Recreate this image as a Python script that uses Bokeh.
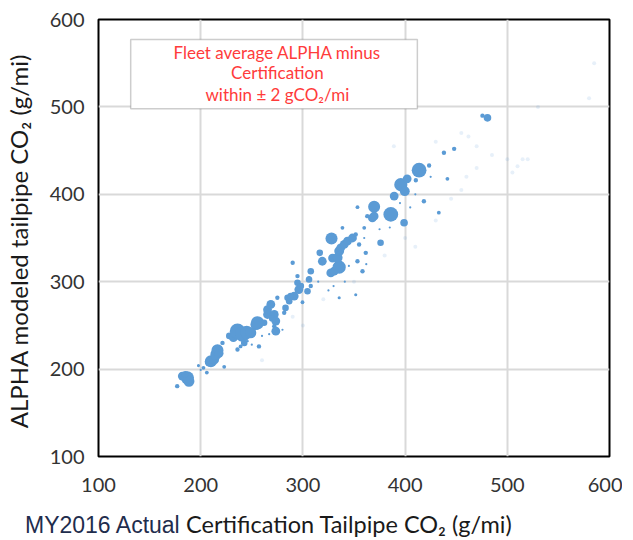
import numpy as np
from bokeh.plotting import figure
from bokeh.layouts import column
from bokeh.models import ColumnDataSource, Label, BoxAnnotation, FixedTicker, Div
from bokeh.embed import file_html
from bokeh.resources import INLINE

# ---- data ----
cert_x = [177, 182, 187, 188.5, 185, 197.8, 202.7, 206, 200, 208.3, 210, 213.2, 214.8, 216.4, 218,
          223, 221.3, 228, 232, 236, 241, 245, 242.6, 236, 239, 249, 254, 255.6, 257, 262,
          265.4, 265.4, 268.6, 272, 270, 273.5, 272, 273.5, 281.7, 283, 275, 285, 291.5, 286.6, 288,
          294.7, 296, 299.6, 298, 304.5, 307.7, 306, 294.7, 290, 306, 307.7, 316.5, 319, 327.3, 330.6,
          335.5, 329, 334, 335.5, 337, 340.4, 343.6, 348.5, 351.7, 328, 338.7, 335.5, 351.7, 353.4, 358.3,
          361.5, 355, 360, 353.4, 363, 368, 369.7, 369.7, 376, 386, 389.3, 395.8, 399.7, 402, 399,
          410.5, 413.7, 418.4, 423.5, 433, 441.4, 438, 448, 475.7, 480.6,
          315, 345, 362, 325, 280, 250, 267, 375, 385, 395, 405, 360, 341, 330, 410, 425, 260, 246]
alpha_y = [180.5, 192, 190, 186, 194, 204, 201.5, 196, 199, 208, 209, 211, 216.7, 221.5, 218,
           202.6, 230, 238, 236, 243.4, 240, 242, 230, 222.5, 226, 241.6, 251, 253, 226, 253,
           262.5, 268, 274, 262.5, 258, 255, 249, 243.4, 264.4, 270, 281.6, 281.6, 283.5, 277.7, 283.6,
           298.7, 291, 276.5, 295, 289, 295, 302.5, 306.4, 321.6, 304.4, 312, 333, 323.4, 310, 312,
           316.6, 327, 327.4, 335, 338.8, 342.6, 346.4, 350, 354, 349.4, 361.7, 281.6, 285, 323.4, 312,
           333, 342.6, 361.7, 385.3, 375, 373, 375, 385.7, 344.6, 377, 398, 411, 403.6, 417.7, 367.4,
           416, 427.6, 392, 433, 379, 417.7, 447.5, 452, 490, 487.5,
           300, 318, 320, 290, 245, 228, 240, 360, 362, 390, 385, 350, 300, 295, 400, 420, 238, 232]
sales = [4, 16, 36, 25, 9, 2, 3, 3, 1, 16, 30, 20, 25, 30, 16,
         3, 4, 9, 16, 49, 49, 36, 9, 4, 3, 25, 25, 36, 4, 9,
         16, 16, 16, 16, 9, 16, 4, 16, 4, 9, 4, 9, 16, 9, 9,
         9, 16, 3, 9, 9, 4, 9, 4, 4, 3, 9, 9, 16, 16, 16,
         36, 16, 20, 20, 16, 16, 16, 16, 4, 30, 3, 2, 2, 4, 4,
         4, 4, 3, 3, 4, 16, 16, 30, 9, 45, 16, 36, 20, 16, 12,
         4, 45, 4, 4, 3, 3, 4, 4, 4, 12,
         1, 1, 1, 1, 1, 1, 1, 1, 1, 1, 1, 1, 1, 1, 1, 1, 1, 1]

# faint, barely visible low-volume vehicles
faint_x = [389, 455, 462, 470, 485, 500, 505, 510, 515, 470, 460, 430, 530, 580, 585, 445, 455,
           430, 520, 380, 350, 320, 260, 400, 410, 290, 300]
faint_y = [455, 470, 466, 455, 445, 440, 425, 432, 440, 430, 420, 460, 500, 510, 550, 395, 405,
           370, 440, 330, 300, 280, 210, 350, 340, 260, 250]

ticks = [100, 200, 300, 400, 500, 600]
box_lines = ["Fleet average ALPHA minus", "Certification", "within \u00b1 2 gCO\u2082/mi"]
x_title_a = "MY2016 Actual"
x_title_b = "Certification Tailpipe CO\u2082 (g/mi)"

BLUE = "#5b9bd5"
FONT = "Lato"

src = ColumnDataSource(dict(x=cert_x, y=alpha_y,
                            s=[2.2 * np.sqrt(v) for v in sales]))
fsrc = ColumnDataSource(dict(x=faint_x, y=faint_y))

p = figure(frame_width=511, frame_height=437, x_range=(100, 600), y_range=(100, 600),
           output_backend="svg", toolbar_location=None,
           min_border_left=93, min_border_right=13, min_border_top=19, min_border_bottom=45)
p.background_fill_color = "white"
p.border_fill_color = "white"
p.outline_line_color = "black"
p.outline_line_width = 2

for ax in (p.xaxis, p.yaxis):
    ax.ticker = FixedTicker(ticks=ticks)
    ax.axis_line_color = None
    ax.major_tick_line_color = None
    ax.minor_tick_line_color = None
    ax.major_label_text_font = FONT
    ax.major_label_text_font_size = "20px"
    ax.major_label_text_color = "#333333"
p.xaxis.major_label_standoff = 15
p.yaxis.major_label_standoff = 8

p.yaxis.axis_label = "ALPHA modeled  tailpipe CO\u2082 (g/mi)"
p.yaxis.axis_label_text_font = FONT
p.yaxis.axis_label_text_font_size = "24px"
p.yaxis.axis_label_text_font_style = "normal"
p.yaxis.axis_label_text_color = "#1a1a1a"
p.yaxis.axis_label_standoff = 14

p.grid.grid_line_color = "#d9d9d9"
p.grid.grid_line_width = 2

p.scatter("x", "y", size=4, source=fsrc, color=BLUE, alpha=0.15, line_color=None)
p.scatter("x", "y", size="s", source=src, color=BLUE, line_color=None)

# annotation box
p.add_layout(BoxAnnotation(left=131.5, right=412, bottom=498, top=577,
                           fill_color="white", fill_alpha=1.0,
                           line_color="#595959", line_width=1.5))
for txt, yy in zip(box_lines, [562.2, 539.4, 514.2]):
    p.add_layout(Label(x=275, y=yy, text=txt, text_align="center", text_baseline="middle",
                       text_font=FONT, text_font_size="17px", text_color="#ff3b3b"))

# x axis title, composed of two differently styled parts
title_html = (
    '<div style="padding-left:20px; padding-top:7px; line-height:23px; white-space:nowrap;">'
    '<span style="font-family:\'Liberation Sans\'; font-size:23px; color:#1f2d4d;">'
    + x_title_a + ' </span>'
    '<span style="font-family:Lato; font-size:23.5px; color:#1a1a1a;">'
    + x_title_b + '</span></div>'
)
t = Div(text=title_html, width=617, height=32)

open("out.html", "w").write(file_html(column(p, t, spacing=0), INLINE))
